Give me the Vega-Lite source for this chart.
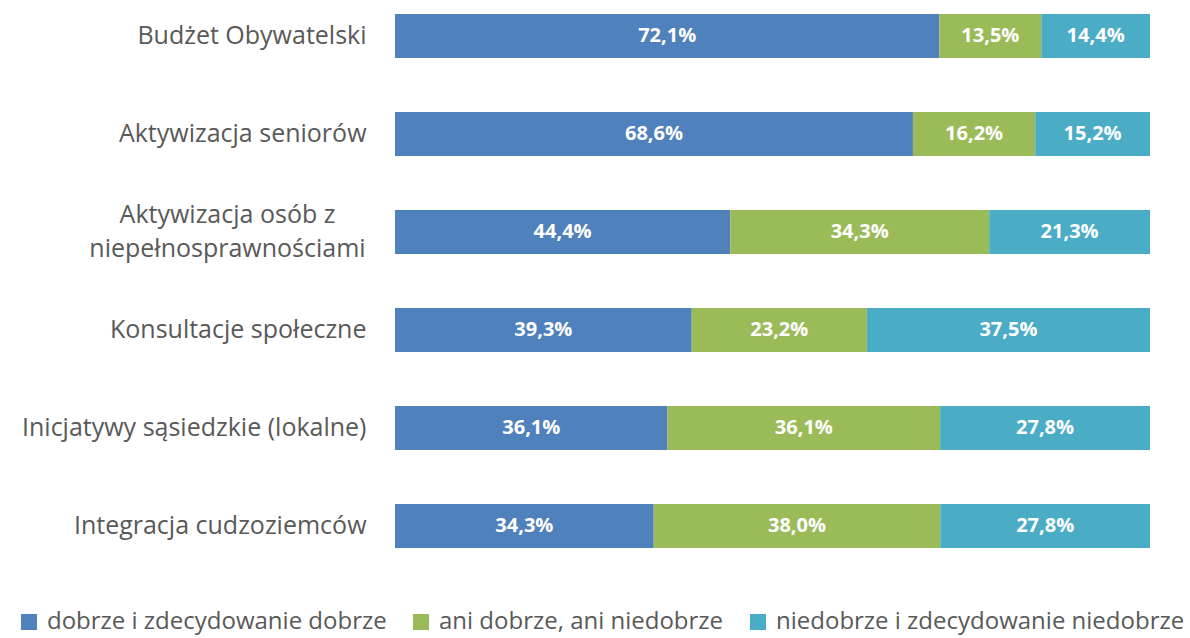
{
  "$schema": "https://vega.github.io/schema/vega-lite/v6.json",
  "autosize": {"type": "none"},
  "width": 755,
  "height": 552,
  "padding": {"left": 395, "top": 5, "right": 40, "bottom": 81},
  "background": "white",
  "config": {
    "view": {"stroke": null},
    "font": "Open Sans",
    "locale": {"number": {"decimal": ",", "thousands": " ", "grouping": [3], "currency": ["", " zł"]}}
  },
  "data": {
    "values": [
      {"kategoria": "Budżet Obywatelski", "ocena": "dobrze i zdecydowanie dobrze", "k": 1, "v": 0.721},
      {"kategoria": "Budżet Obywatelski", "ocena": "ani dobrze, ani niedobrze", "k": 2, "v": 0.135},
      {"kategoria": "Budżet Obywatelski", "ocena": "niedobrze i zdecydowanie niedobrze", "k": 3, "v": 0.144},
      {"kategoria": "Aktywizacja seniorów", "ocena": "dobrze i zdecydowanie dobrze", "k": 1, "v": 0.686},
      {"kategoria": "Aktywizacja seniorów", "ocena": "ani dobrze, ani niedobrze", "k": 2, "v": 0.162},
      {"kategoria": "Aktywizacja seniorów", "ocena": "niedobrze i zdecydowanie niedobrze", "k": 3, "v": 0.152},
      {"kategoria": "Aktywizacja osób z|niepełnosprawnościami", "ocena": "dobrze i zdecydowanie dobrze", "k": 1, "v": 0.444},
      {"kategoria": "Aktywizacja osób z|niepełnosprawnościami", "ocena": "ani dobrze, ani niedobrze", "k": 2, "v": 0.343},
      {"kategoria": "Aktywizacja osób z|niepełnosprawnościami", "ocena": "niedobrze i zdecydowanie niedobrze", "k": 3, "v": 0.213},
      {"kategoria": "Konsultacje społeczne", "ocena": "dobrze i zdecydowanie dobrze", "k": 1, "v": 0.393},
      {"kategoria": "Konsultacje społeczne", "ocena": "ani dobrze, ani niedobrze", "k": 2, "v": 0.232},
      {"kategoria": "Konsultacje społeczne", "ocena": "niedobrze i zdecydowanie niedobrze", "k": 3, "v": 0.375},
      {"kategoria": "Inicjatywy sąsiedzkie (lokalne)", "ocena": "dobrze i zdecydowanie dobrze", "k": 1, "v": 0.361},
      {"kategoria": "Inicjatywy sąsiedzkie (lokalne)", "ocena": "ani dobrze, ani niedobrze", "k": 2, "v": 0.361},
      {"kategoria": "Inicjatywy sąsiedzkie (lokalne)", "ocena": "niedobrze i zdecydowanie niedobrze", "k": 3, "v": 0.278},
      {"kategoria": "Integracja cudzoziemców", "ocena": "dobrze i zdecydowanie dobrze", "k": 1, "v": 0.343},
      {"kategoria": "Integracja cudzoziemców", "ocena": "ani dobrze, ani niedobrze", "k": 2, "v": 0.380},
      {"kategoria": "Integracja cudzoziemców", "ocena": "niedobrze i zdecydowanie niedobrze", "k": 3, "v": 0.278}
    ]
  },
  "encoding": {
    "y": {
      "field": "kategoria",
      "type": "nominal",
      "sort": null,
      "scale": {"paddingInner": 0.55, "paddingOuter": 0.092},
      "axis": {
        "title": null,
        "domain": false,
        "ticks": false,
        "labelPadding": {"condition": {"test": "indexof(datum.value, '|') >= 0", "value": 168}, "value": 29},
        "labelAlign": {"condition": {"test": "indexof(datum.value, '|') >= 0", "value": "center"}, "value": "right"},
        "labelOffset": {"condition": {"test": "indexof(datum.value, '|') >= 0", "value": -17}, "value": 0},
        "labelFontSize": 25,
        "labelColor": "#595959",
        "labelFont": "Open Sans",
        "labelLimit": 400,
        "labelLineHeight": 34,
        "labelExpr": "split(datum.value, '|')"
      }
    },
    "x": {
      "field": "v",
      "type": "quantitative",
      "stack": "normalize",
      "scale": {"domain": [0, 1], "nice": false},
      "axis": null
    },
    "order": {"field": "k", "type": "quantitative"}
  },
  "layer": [
    {
      "mark": {"type": "bar"},
      "encoding": {
        "color": {
          "field": "ocena",
          "type": "nominal",
          "sort": ["dobrze i zdecydowanie dobrze", "ani dobrze, ani niedobrze", "niedobrze i zdecydowanie niedobrze"],
          "scale": {
            "domain": ["dobrze i zdecydowanie dobrze", "ani dobrze, ani niedobrze", "niedobrze i zdecydowanie niedobrze"],
            "range": ["#4F81BD", "#9BBB59", "#4BACC6"]
          },
          "legend": {
            "title": null,
            "orient": "none",
            "direction": "horizontal",
            "legendX": -378,
            "legendY": 605,
            "symbolType": "square",
            "symbolSize": 256,
            "symbolStrokeWidth": 0,
            "labelFontSize": 24,
            "labelColor": "#595959",
            "labelFont": "Open Sans",
            "labelLimit": 600,
            "labelOffset": 6,
            "columnPadding": 22
          }
        }
      }
    },
    {
      "mark": {"type": "text", "color": "white", "fontWeight": "bold", "fontSize": 20, "font": "Open Sans", "baseline": "middle", "align": "center"},
      "encoding": {
        "x": {"field": "v", "type": "quantitative", "stack": "normalize", "bandPosition": 0.5},
        "text": {"field": "v", "type": "quantitative", "format": ".1%"}
      }
    }
  ]
}
